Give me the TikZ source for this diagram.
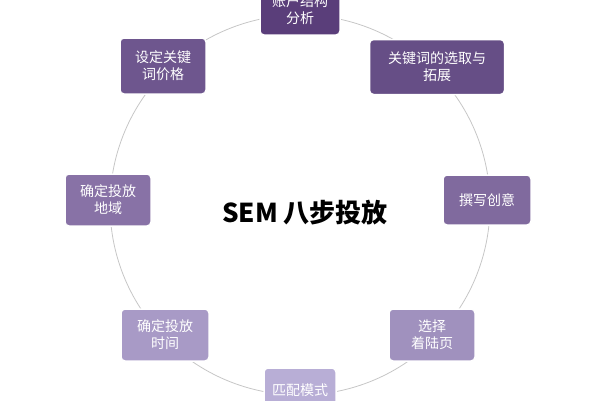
\documentclass[tikz,border=0pt]{standalone}
\usepackage{fontspec}
\setmainfont{Noto Sans CJK SC}
\begin{document}
\begin{tikzpicture}[x=1pt,y=-1pt,
  stepbox/.style={draw=white,line width=1.5pt,rounded corners=4pt,text=white,font=\fontsize{14}{17}\selectfont,align=center,inner sep=2pt}]
\useasboundingbox (0,0) rectangle (600,400);
\draw[gray!45,line width=0.8pt] (300,205) ellipse (190 and 190);
\node[stepbox,fill={rgb,255:red,90;green,62;blue,122},minimum width=80pt,minimum height=50pt] (n1) at (300,10) {账户结构\\分析};
\node[stepbox,fill={rgb,255:red,102;green,78;blue,134},minimum width=135pt,minimum height=55pt] (n2) at (437,67) {关键词的选取与\\拓展};
\node[stepbox,fill={rgb,255:red,128;green,106;blue,158},minimum width=88pt,minimum height=50pt] (n3) at (487,200) {撰写创意};
\node[stepbox,fill={rgb,255:red,160;green,145;blue,190},minimum width=86pt,minimum height=52pt] (n4) at (432,335) {选择\\着陆页};
\node[stepbox,fill={rgb,255:red,184;green,174;blue,214},minimum width=72pt,minimum height=44pt] (n5) at (300,390) {匹配模式};
\node[stepbox,fill={rgb,255:red,168;green,154;blue,198},minimum width=88pt,minimum height=52pt] (n6) at (165,335) {确定投放\\时间};
\node[stepbox,fill={rgb,255:red,136;green,114;blue,166},minimum width=86pt,minimum height=52pt] (n7) at (108,200) {确定投放\\地域};
\node[stepbox,fill={rgb,255:red,110;green,86;blue,142},minimum width=86pt,minimum height=56pt] (n8) at (163,66) {设定关键\\词价格};
\node[font=\fontsize{26}{30}\selectfont\bfseries] (c) at (305,213) {SEM 八步投放};
\end{tikzpicture}
\end{document}
